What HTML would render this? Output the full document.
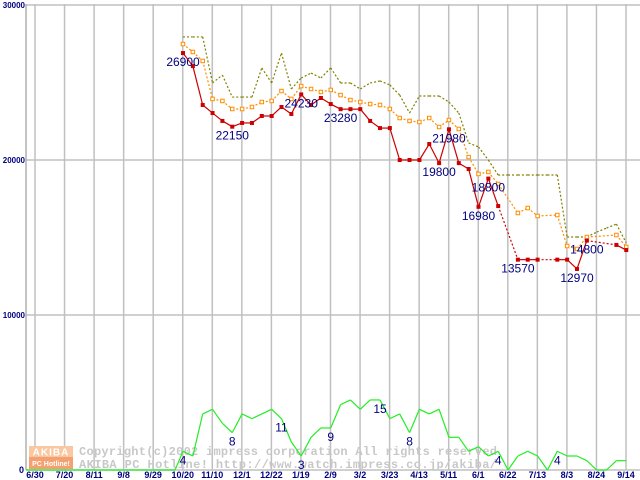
<!DOCTYPE html>
<html><head><meta charset="utf-8"><style>
body{margin:0;background:#fff;}
svg{display:block;font-family:"Liberation Sans",sans-serif;}
</style></head><body>
<svg id="chart" width="640" height="480" viewBox="0 0 640 480" xmlns="http://www.w3.org/2000/svg">
<g id="grid"></g>
<g id="watermark">
  <rect x="29" y="446" width="44" height="11" fill="#f9c8a0"/>
  <rect x="29" y="457" width="44" height="12" fill="#f4a070"/>
  <text x="51" y="455.5" font-size="10" font-weight="bold" fill="#fff" text-anchor="middle" letter-spacing="1">AKIBA</text>
  <text x="51" y="466" font-size="7" font-weight="bold" fill="#fff" text-anchor="middle">PC Hotline!</text>
  <text x="79" y="455" font-family="Liberation Mono,monospace" font-size="12" font-weight="bold" fill="#c8c8c8" textLength="418">Copyright(c)2002 impress corporation All rights reserved</text>
  <text x="79" y="468" font-family="Liberation Mono,monospace" font-size="12" font-weight="bold" fill="#c8c8c8" textLength="418">AKIBA PC Hotline!  http://www.watch.impress.co.jp/akiba/</text>
</g>
<g id="series"></g>
<g id="labels"></g>
</svg>
<script>
const xLabels=["6/30","7/20","8/11","9/8","9/29","10/20","11/10","12/1","12/22","1/19","2/9","3/2","3/23","4/13","5/11","6/1","6/22","7/13","8/3","8/24","9/14"];
const yTicks=[0,10000,20000,30000];
const minPrice=[26900,26060,23550,23030,22520,22150,22390,22390,22840,22840,23420,22970,24230,23550,24000,23610,23280,23280,23280,22520,22060,22060,20000,20000,20000,21030,19800,21980,19800,19420,16980,18800,17030,null,13570,13570,13570,null,13570,13570,12970,14800,null,null,14520,14190];
const avgPrice=[27480,26970,26390,23940,23810,23290,23290,23420,23740,23810,24450,23940,24770,24580,24390,24520,24190,23870,23740,23610,23550,23290,22710,22520,22450,22710,22130,22580,22000,20190,19100,19230,18450,null,16580,16900,16390,null,16450,14450,14260,15030,null,null,15160,14390];
const maxPrice=[27940,27940,27940,24970,25480,24060,24060,24060,25940,24970,26900,24580,25290,25610,25290,25940,24970,24970,24580,24970,25100,24840,24190,23030,24130,24130,24130,23740,23030,21100,20840,20000,19030,19030,19030,19030,19030,19030,19030,15030,15030,15030,15350,15610,15870,14650];
const shopCount=[4,3,12,13,10,8,12,11,12,13,11,6,3,7,9,9,14,15,13,15,15,11,12,8,13,12,13,7,7,4,5,3,4,0,3,4,3,0,4,3,3,2,0,0,2,2];
const priceLabelIdx=[0,5,12,16,26,27,30,31,34,40,41];
const countLabelIdx=[0,5,10,12,15,20,23,32,38];

const NS="http://www.w3.org/2000/svg";
const plotL=26,plotR=640,y0=470,yTop=4;
const xGrid0=35,xGridStep=29.55;
const xData0=183,xDataStep=9.85;
function yP(v){return y0-v*0.0155;}
function yC(c){return y0-c*4.67;}
function xW(i){return xData0+i*xDataStep;}
function mk(tag,attrs,parent){const e=document.createElementNS(NS,tag);for(const k in attrs)e.setAttribute(k,attrs[k]);parent.appendChild(e);return e;}
const grid=document.getElementById('grid'),ser=document.getElementById('series'),lab=document.getElementById('labels');

xLabels.forEach((t,i)=>{
  const x=xGrid0+i*xGridStep;
  const l=mk('line',{x1:x,y1:yTop,x2:x,y2:y0,stroke:'#c0c0c0','stroke-width':1.5},grid);
  
  
  const tx=mk('text',{x:x,y:478,'font-size':9,'font-weight':'bold',fill:'#000080','text-anchor':'middle'},grid);
  tx.textContent=t;
  
  
});
yTicks.forEach(v=>{
  const y=yP(v);
  const l=mk('line',{x1:plotL,y1:y,x2:plotR,y2:y,stroke:'#c0c0c0','stroke-width':1.5},grid);
  
  
  const tx=mk('text',{x:v===0?24:25,y:y+3,'font-size':v===0?9:8,'font-weight':'bold',fill:'#000080','text-anchor':'end'},grid);
  tx.textContent=String(v);
  
  
});
const ax=mk('line',{x1:plotL,y1:yTop,x2:plotL,y2:y0,stroke:'#b0b0b0','stroke-width':1.5},grid);



function drawSeries(arr,yf,color,dash,name){
  let prev=-1;
  for(let i=0;i<arr.length;i++){
    if(arr[i]==null)continue;
    if(prev>=0){
      const gap=i-prev>1;
      const a={x1:xW(prev),y1:yf(arr[prev]),x2:xW(i),y2:yf(arr[i]),stroke:color,'stroke-width':1.2};
      if(dash||gap)a['stroke-dasharray']='2,2';
      const l=mk('line',a,ser);
      
      
    }
    prev=i;
  }
}
const gz=mk('line',{x1:plotL,y1:y0,x2:xW(0)-8,y2:y0,stroke:'#22ee22','stroke-width':1.2},ser);


const gz2=mk('line',{x1:xW(0)-8,y1:y0,x2:xW(0),y2:yC(shopCount[0]),stroke:'#22ee22','stroke-width':1.2},ser);


drawSeries(shopCount,yC,'#22ee22',false,'count');
drawSeries(maxPrice,yP,'#808000',true,'max-price');
drawSeries(avgPrice,yP,'#ff8c00',true,'avg-price');
drawSeries(minPrice,yP,'#cc0000',false,'min-price');
avgPrice.forEach((v,i)=>{
  if(v==null)return;
  const r=mk('rect',{x:xW(i)-1.75,y:yP(v)-1.75,width:3.5,height:3.5,fill:'#fff',stroke:'#ff8c00','stroke-width':1},ser);
  
  
});
minPrice.forEach((v,i)=>{
  if(v==null)return;
  const r=mk('rect',{x:xW(i)-2,y:yP(v)-2,width:4,height:4,fill:'#cc0000'},ser);
  
  
});
priceLabelIdx.forEach(i=>{
  const t=mk('text',{x:xW(i),y:yP(minPrice[i])+13,'font-size':12,fill:'#000080','text-anchor':'middle'},lab);
  t.textContent=String(minPrice[i]);
  
  
});
countLabelIdx.forEach(i=>{
  const t=mk('text',{x:xW(i),y:yC(shopCount[i])+13,'font-size':12,fill:'#000080','text-anchor':'middle'},lab);
  t.textContent=String(shopCount[i]);
  
  
});
</script>
</body></html>
